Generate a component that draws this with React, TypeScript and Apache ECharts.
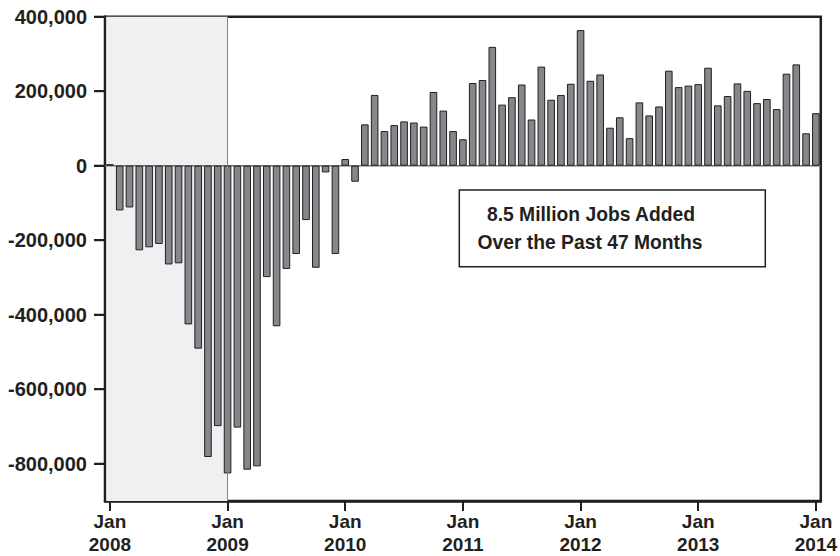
import React, { useEffect, useRef } from "react";
import * as echarts from "echarts";

const MONTHS = ["Jan", "Feb", "Mar", "Apr", "May", "Jun", "Jul", "Aug", "Sep", "Oct", "Nov", "Dec"];
const YEARS = [2008, 2009, 2010, 2011, 2012, 2013, 2014];

const jobs2008 = [4000, -120000, -112000, -227000, -219000, -210000, -265000, -262000, -426000, -491000, -782000, -699000];
const jobs2009 = [-826000, -703000, -816000, -807000, -299000, -431000, -277000, -237000, -146000, -274000, -18000, -237000];
const jobs2010 = [18000, -43000, 111000, 190000, 93000, 109000, 119000, 116000, 105000, 198000, 148000, 93000];
const jobs2011 = [71000, 222000, 230000, 319000, 164000, 184000, 218000, 124000, 266000, 177000, 190000, 220000];
const jobs2012 = [364000, 228000, 245000, 102000, 130000, 74000, 170000, 135000, 159000, 255000, 211000, 215000];
const jobs2013 = [219000, 263000, 162000, 187000, 221000, 201000, 168000, 179000, 152000, 247000, 272000, 87000];
const jobs2014 = [141000];

const Y_MIN = -900000;
const Y_MAX = 400000;
const yTickValues = [-800000, -600000, -400000, -200000, 0, 200000, 400000];
// 100k steps spanning the value axis, used by a tick-only companion axis
const yTickSteps = [
  -900000, -800000, -700000, -600000, -500000, -400000, -300000, -200000, -100000, 0, 100000, 200000, 300000, 400000,
];

const recessionStart = -0.5; // left edge of the first month slot
const recessionEnd = 12; // Jan 2009

const annotationLines = ["8.5 Million Jobs Added", "Over the Past 47 Months"];

const values = [...jobs2008, ...jobs2009, ...jobs2010, ...jobs2011, ...jobs2012, ...jobs2013, ...jobs2014];
const categories: string[] = [];
YEARS.forEach((y) => MONTHS.forEach((m) => categories.push(`${m} ${y}`)));
categories.length = values.length;

const INK = "#231f20";
const FONT = "'Liberation Sans', Arial, Helvetica, sans-serif";

export default function App() {
  const ref = useRef<HTMLDivElement>(null);
  useEffect(() => {
    if (!ref.current) return;
    const chart = echarts.init(ref.current, undefined, { renderer: "svg" });
    const n = values.length;
    chart.setOption({
      animation: false,
      backgroundColor: "#ffffff",
      grid: {
        left: 105,
        right: 16.7,
        top: 16.7,
        bottom: 54.3,
        show: true,
        borderColor: INK,
        borderWidth: 2.5,
        backgroundColor: "transparent",
      },
      xAxis: [
        {
          type: "category",
          data: categories,
          boundaryGap: true,
          position: "bottom",
          axisLine: { show: true, onZero: false, lineStyle: { color: INK, width: 2.5 } },
          axisTick: { show: true, interval: 11, alignWithLabel: true, length: 10, lineStyle: { color: INK, width: 2 } },
          axisLabel: {
            show: true,
            interval: 11,
            formatter: (v: string) => v.replace(" ", "\n"),
            color: INK,
            fontFamily: FONT,
            fontWeight: "bold",
            fontSize: 19,
            lineHeight: 23,
            margin: 9,
          },
          splitLine: { show: false },
        },
        { type: "value", min: -0.5, max: n - 0.5, show: false },
      ],
      yAxis: [
        {
          type: "value",
          min: Y_MIN,
          max: Y_MAX,
          axisLine: { show: true, onZero: false, lineStyle: { color: INK, width: 2.5 } },
          axisTick: { show: false },
          axisLabel: {
            show: true,
            customValues: yTickValues,
            formatter: (v: number) => v.toLocaleString("en-US"),
            color: INK,
            fontFamily: FONT,
            fontWeight: "bold",
            fontSize: 20,
            margin: 18,
          },
          splitLine: { show: false },
        },
        {
          // tick-only companion axis: same extent, ticks every 200,000
          type: "category",
          data: yTickSteps.map(String),
          boundaryGap: false,
          position: "left",
          axisLine: { show: false, onZero: false },
          axisLabel: { show: false },
          axisTick: {
            show: true,
            length: 11,
            interval: (_i: number, v: string) => yTickValues.includes(Number(v)),
            lineStyle: { color: INK, width: 2 },
          },
          splitLine: { show: false },
        },
      ],
      series: [
        {
          type: "line",
          xAxisIndex: 1,
          data: [[recessionStart, 0]],
          symbol: "none",
          showSymbol: false,
          lineStyle: { opacity: 0 },
          silent: true,
          z: 0,
          markArea: {
            silent: true,
            itemStyle: { color: "#eff0f2" },
            data: [[{ xAxis: recessionStart + 0.12 }, { xAxis: recessionEnd }]],
          },
        },
        {
          type: "line",
          xAxisIndex: 1,
          data: [
            [-0.5, 0],
            [n - 0.5, 0],
          ],
          symbol: "none",
          showSymbol: false,
          silent: true,
          lineStyle: { color: "#6d6e71", width: 1.5 },
          z: 1,
          markLine: {
            silent: true,
            symbol: ["none", "none"],
            label: { show: false },
            lineStyle: { color: "#808285", width: 1, type: "solid" },
            data: [{ xAxis: recessionEnd }],
          },
        },
        {
          type: "bar",
          data: values,
          barWidth: 7.6,
          z: 3,
          itemStyle: { color: "#86878b", borderColor: INK, borderWidth: 1 },
        },
      ],
    });

    // y-axis tick marks at the labelled values, placed through the axis scales
    const axisX = Number(chart.convertToPixel({ xAxisIndex: 1 }, -0.5));
    const tickGraphics = yTickValues.map((v) => {
      const py = Number(chart.convertToPixel({ yAxisIndex: 0 }, v));
      return {
        type: "line",
        z: 30,
        silent: true,
        shape: { x1: axisX - 11, y1: py, x2: axisX, y2: py },
        style: { stroke: INK, lineWidth: 2 },
      };
    });

    chart.setOption({
      graphic: [
        ...tickGraphics,
        {
          type: "rect",
          z: 20,
          shape: { x: 459.3, y: 190, width: 306, height: 76.7 },
          style: { fill: "#ffffff", stroke: INK, lineWidth: 1.5 },
        },
        {
          type: "text",
          z: 21,
          x: 591,
          y: 214.5,
          style: { text: annotationLines[0], fill: INK, fontFamily: FONT, fontWeight: "bold", fontSize: 19.3, align: "center", verticalAlign: "middle" },
        },
        {
          type: "text",
          z: 21,
          x: 590,
          y: 242.5,
          style: { text: annotationLines[1], fill: INK, fontFamily: FONT, fontWeight: "bold", fontSize: 19.3, align: "center", verticalAlign: "middle" },
        },
      ],
    });
    return () => chart.dispose();
  }, []);
  return <div ref={ref} style={{ width: 840, height: 556, position: "absolute", left: 0, top: 0 }} />;
}
